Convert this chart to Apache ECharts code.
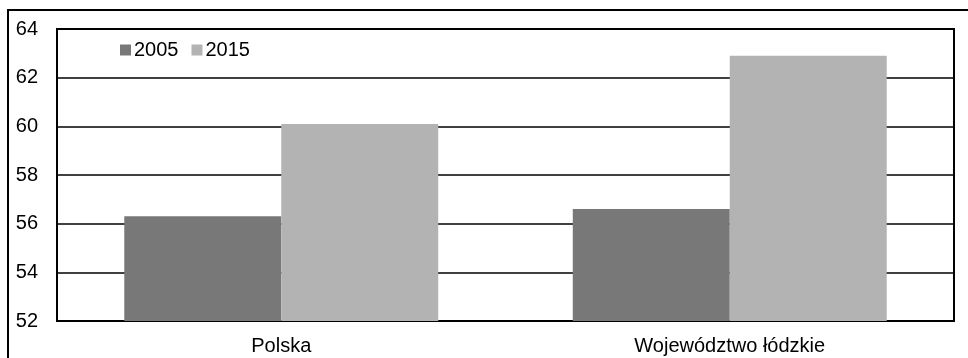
<!DOCTYPE html>
<html>
<head>
<meta charset="utf-8">
<script src="https://cdn.jsdelivr.net/npm/echarts@6/dist/echarts.min.js"></script>
<style>
  html, body { margin: 0; padding: 0; background: #fff; }
  #chart { width: 968px; height: 358px; }
</style>
</head>
<body>
<div id="chart"></div>
<script>
// Regions compared
const categories = ['Polska', 'Województwo łódzkie'];
// Values for each year
const values2005 = [56.3, 56.6];
const values2015 = [60.1, 62.9];
const seriesNames = ['2005', '2015'];

const font = '"Liberation Sans", Arial, sans-serif';

const chart = echarts.init(document.getElementById('chart'));
chart.setOption({
  animation: false,
  backgroundColor: '#fff',
  graphic: [{
    type: 'rect',
    shape: { x: 8, y: 10, width: 980, height: 380 },
    style: { fill: 'none', stroke: '#000', lineWidth: 2 },
    silent: true,
    z: 100
  }],
  legend: {
    data: seriesNames,
    left: 115,
    top: 35,
    icon: 'rect',
    itemWidth: 11,
    itemHeight: 11,
    itemGap: 13,
    textStyle: { fontFamily: font, fontSize: 20, color: '#000', padding: [0, 0, 0, -2] }
  },
  grid: {
    left: 57,
    right: 14,
    top: 29,
    bottom: 37,
    show: true,
    borderColor: '#000',
    borderWidth: 2,
    containLabel: false
  },
  xAxis: {
    type: 'category',
    data: categories,
    axisLine: { lineStyle: { color: '#000', width: 2 } },
    axisTick: { show: false },
    axisLabel: { fontFamily: font, fontSize: 20, color: '#000', margin: 15 }
  },
  yAxis: {
    type: 'value',
    min: 52,
    max: 64,
    interval: 2,
    axisLine: { show: true, lineStyle: { color: '#000', width: 2 } },
    axisTick: { show: false },
    splitLine: { lineStyle: { color: '#000', width: 1.5 } },
    axisLabel: { fontFamily: font, fontSize: 20, color: '#000', margin: 19 }
  },
  series: [
    {
      name: seriesNames[0],
      type: 'bar',
      data: values2005,
      barGap: '0%',
      barCategoryGap: '30%',
      itemStyle: { color: '#787878' }
    },
    {
      name: seriesNames[1],
      type: 'bar',
      data: values2015,
      barGap: '0%',
      barCategoryGap: '30%',
      itemStyle: { color: '#b3b3b3' }
    }
  ]
});
</script>
</body>
</html>
